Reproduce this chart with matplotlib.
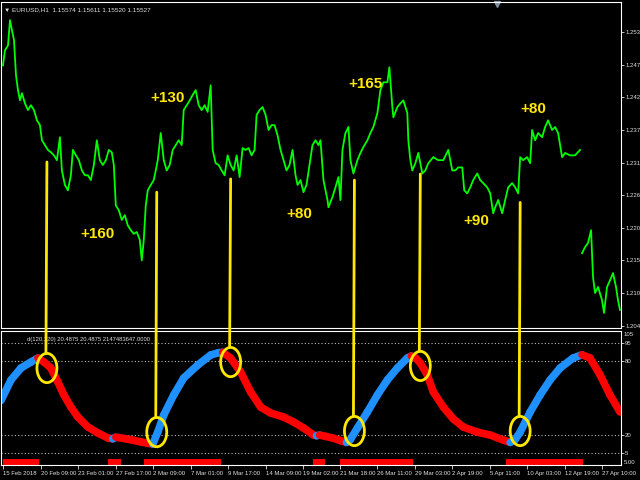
import numpy as np
import matplotlib
matplotlib.use("Agg")
import matplotlib.pyplot as plt
from matplotlib.collections import LineCollection
from matplotlib.patches import Ellipse, ConnectionPatch
from matplotlib.transforms import blended_transform_factory

plt.rcParams['font.family'] = ['Liberation Sans', 'DejaVu Sans']

# EURUSD H1 close (bar index, price); NaN marks the data gap
price_bar = [2, 4, 7, 9, 11, 13, 15, 17, 19, 21, 24, 27, 30, 33, 36, 39, 41, 44, 47, 50,
             53, 56, 59, 61, 64, 67, 70, 72, 75, 78, 81, 84, 87, 90, 93, 96, 99, 102, 105, 108,
             111, 113, 115, 118, 121, 124, 127, 130, 133, 136, 139, 141, 143, 145, 147, 150, 153, 155, 157, 160,
             163, 166, 169, 172, 175, 178, 181, 183, 186, 189, 192, 195, 198, 201, 204, 207, 210, 212, 215, 218,
             221, 224, 227, 230, 233, 236, 239, 242, 245, 248, 251, 254, 256, 259, 262, 265, 268, 271, 274, 277,
             280, 283, 286, 289, 292, 295, 297, 300, 303, 306, 309, 312, 315, 318, 320, 323, 327, 328, 332, 335,
             338, 340, 342, 345, 348, 350, 353, 357, 360, 363, 367, 370, 373, 377, 380, 383, 387, 389, 392, 393,
             397, 400, 403, 407, 408, 410, 412, 415, 418, 422, 425, 428, 433, 438, 443, 448, 452, 455, 458, 462,
             464, 467, 470, 473, 477, 480, 483, 487, 490, 493, 495, 498, 502, 505, 508, 512, 515, 518, 520, 523,
             527, 530, 532, 535, 538, 542, 545, 548, 552, 555, 558, 562, 565, 570, 575, 580, 581, 582, 585, 588,
             591, 593, 595, 598, 602, 604, 607, 610, 613, 616, 618, 620]
price = [1.2478, 1.2503, 1.2511, 1.2553, 1.2536, 1.2520, 1.2462, 1.2437, 1.2420, 1.2432,
         1.2415, 1.2404, 1.2412, 1.2404, 1.2387, 1.2379, 1.2354, 1.2346, 1.2338, 1.2334,
         1.2329, 1.2321, 1.2359, 1.2304, 1.2280, 1.2271, 1.2296, 1.2338, 1.2329, 1.2321,
         1.2304, 1.2296, 1.2296, 1.2288, 1.2313, 1.2354, 1.2321, 1.2313, 1.2321, 1.2338,
         1.2334, 1.2313, 1.2246, 1.2238, 1.2222, 1.2230, 1.2213, 1.2205, 1.2199, 1.2202,
         1.2189, 1.2155, 1.2189, 1.2246, 1.2271, 1.2280, 1.2288, 1.2304, 1.2321, 1.2366,
         1.2321, 1.2304, 1.2313, 1.2338, 1.2346, 1.2354, 1.2346, 1.2404, 1.2412, 1.2420,
         1.2429, 1.2437, 1.2412, 1.2404, 1.2412, 1.2401, 1.2445, 1.2338, 1.2316, 1.2313,
         1.2304, 1.2296, 1.2329, 1.2313, 1.2304, 1.2329, 1.2293, 1.2341, 1.2338, 1.2341,
         1.2329, 1.2338, 1.2396, 1.2404, 1.2409, 1.2396, 1.2371, 1.2379, 1.2379, 1.2362,
         1.2338, 1.2321, 1.2304, 1.2313, 1.2338, 1.2296, 1.2280, 1.2288, 1.2268, 1.2280,
         1.2313, 1.2346, 1.2354, 1.2346, 1.2354, 1.2288, 1.2255, 1.2243, 1.2260, 1.2276,
         1.2293, 1.2255, 1.2338, 1.2366, 1.2376, 1.2321, 1.2299, 1.2321, 1.2333, 1.2343,
         1.2354, 1.2366, 1.2376, 1.2399, 1.2437, 1.2450, 1.2450, 1.2475, 1.2409, 1.2392,
         1.2409, 1.2415, 1.2420, 1.2399, 1.2354, 1.2321, 1.2304, 1.2316, 1.2333, 1.2299,
         1.2304, 1.2316, 1.2326, 1.2321, 1.2321, 1.2338, 1.2304, 1.2304, 1.2309, 1.2309,
         1.2271, 1.2266, 1.2276, 1.2288, 1.2299, 1.2288, 1.2283, 1.2276, 1.2266, 1.2233,
         1.2243, 1.2255, 1.2233, 1.2255, 1.2276, 1.2283, 1.2276, 1.2266, 1.2326, 1.2321,
         1.2326, 1.2316, 1.2371, 1.2354, 1.2366, 1.2359, 1.2376, 1.2387, 1.2371, 1.2376,
         1.2366, 1.2326, 1.2333, 1.2329, 1.2329, 1.2338, np.nan, 1.2167, 1.2177, 1.2184,
         1.2205, 1.2127, 1.2101, 1.2111, 1.2089, 1.2068, 1.2111, 1.2122, 1.2134, 1.2111,
         1.2089, 1.2073]

# oscillator (0..100 style) in lower window
ind_bar = [0, 10, 20, 30, 37, 43, 50, 57, 63, 70, 77, 87, 97, 107, 112, 115, 118, 125, 133, 140,
           147, 152, 157, 163, 173, 183, 197, 210, 218, 222, 230, 240, 250, 260, 270, 283, 293, 303, 313, 316,
           319, 325, 333, 340, 346, 350, 357, 367, 377, 387, 397, 407, 411, 415, 420, 427, 433, 443, 453, 463,
           477, 490, 503, 510, 515, 520, 530, 540, 550, 560, 573, 582, 590, 600, 610, 620]
ind_val = [48.0, 64.8, 74.6, 79.5, 82.8, 79.5, 74.6, 63.0, 52.5, 42.6, 34.4, 26.2, 21.3, 17.2, 16.5, 17.8, 17.5, 16.5, 15.2, 14.0,
           12.8, 12.2, 22.0, 36.0, 52.5, 66.4, 77.0, 85.3, 87.2, 87.5, 82.8, 71.3, 55.0, 42.6, 37.7, 34.4, 30.3, 25.4, 19.6, 19.0,
           19.6, 18.5, 17.0, 15.0, 13.5, 16.0, 25.4, 38.5, 52.5, 64.8, 74.6, 82.8, 84.5, 83.0, 78.7, 69.0, 55.0, 42.6, 32.8, 26.2,
           22.0, 19.6, 15.5, 13.5, 16.0, 22.0, 38.5, 52.5, 64.8, 74.6, 82.8, 85.5, 82.8, 69.0, 52.5, 38.5]
levels = [95, 80, 20, 5]

# red histogram runs along the bottom of the indicator window
bar_start = [2, 107, 143, 313, 340, 506]
bar_end = [38, 120, 220, 325, 413, 583]
bar_level = -2.5

# signals: bar, price where the marker line starts, oscillator level at the circle
sig_bar = [46, 156, 230, 354, 420, 520]
sig_price = [1.2318, 1.2268, 1.2290, 1.2288, 1.2298, 1.2251]
sig_level = [74.6, 22.0, 79.5, 22.9, 76.3, 22.9]

# pips gained per swing
gain_text = ["+160", "+130", "+80", "+165", "+90", "+80"]
gain_bar = [97, 167, 299, 365, 476, 533]
gain_price = [1.2198, 1.2424, 1.2232, 1.2447, 1.2220, 1.2405]

price_ticks = [1.2533, 1.2478, 1.2425, 1.2371, 1.2317, 1.2263, 1.2209, 1.2155, 1.2101, 1.2047]
date_ticks = [2, 40, 77, 115, 152, 190, 227, 265, 302, 340, 377, 415, 452, 490, 527, 565, 602]
date_labels = ["15 Feb 2018", "20 Feb 09:00", "23 Feb 01:00", "27 Feb 17:00", "2 Mar 09:00",
               "7 Mar 01:00", "9 Mar 17:00", "14 Mar 09:00", "19 Mar 02:00", "21 Mar 18:00",
               "26 Mar 11:00", "29 Mar 03:00", "2 Apr 19:00", "5 Apr 11:00", "10 Apr 03:00",
               "12 Apr 19:00", "27 Apr 10:00"]

BG = "black"
FG = "#E0E0E0"
YEL = "#FFE800"
W, H = 640, 480

fig = plt.figure(figsize=(6.4, 4.8), dpi=100, facecolor=BG)
ax_p = fig.add_axes([1 / W, 1 - 328 / H, 620 / W, 326 / H], facecolor=BG)
ax_i = fig.add_axes([1 / W, 1 - 465 / H, 620 / W, 134 / H], facecolor=BG)

for ax in (ax_p, ax_i):
    for s in ax.spines.values():
        s.set_color("white")
        s.set_linewidth(0.8)
    ax.set_xlim(0, 621)
    ax.yaxis.tick_right()
    ax.tick_params(axis="y", colors=FG, labelsize=4.3, length=2, width=0.6, pad=1)

# price window
ax_p.plot(price_bar, price, color="#00FF00", lw=1.3)
ax_p.set_ylim(1.2043, 1.2583)
ax_p.set_yticks(price_ticks)
ax_p.set_yticklabels([f"{v:.4f}" for v in price_ticks])
ax_p.set_xticks([])
ax_p.text(0.005, 0.985, "\u25bc EURUSD,H1  1.15574 1.15611 1.15520 1.15527", transform=ax_p.transAxes,
          color=FG, fontsize=4.6, va="top", ha="left")
ax_p.plot([496 / 620], [0.993], marker="v", color="#8090A0", ms=4, transform=ax_p.transAxes, clip_on=False)

for t, b, p in zip(gain_text, gain_bar, gain_price):
    ax_p.text(b, p, t, color=YEL, fontsize=11, fontweight="bold", ha="center", va="center")

# indicator window
ax_i.set_ylim(-5, 105)
for lv in levels:
    ax_i.axhline(lv, color="#B8B8B8", lw=0.8, ls=(0, (1, 2)))
ax_i.set_yticks(levels)
ax_i.set_yticklabels([str(v) for v in levels])
yt = blended_transform_factory(ax_i.transAxes, ax_i.transData)
ax_i.text(1.004, 104.5, "105", transform=yt, color=FG, fontsize=4.3, va="top", ha="left")
ax_i.text(1.004, -5, "5.00", transform=yt, color=FG, fontsize=4.3, va="bottom", ha="left")

pts = np.column_stack([ind_bar, ind_val])
segs = np.stack([pts[:-1], pts[1:]], axis=1)
rising = np.diff(ind_val) > 0
cols = np.where(rising, "#1E90FF", "#FF0000")
lc = LineCollection(segs, colors=cols, linewidths=5.5, capstyle="round", joinstyle="round")
ax_i.add_collection(lc)

for a, b in zip(bar_start, bar_end):
    ax_i.plot([a, b], [bar_level, bar_level], color="#FF0000", lw=4.3, solid_capstyle="butt")

ax_i.text(26 / 620, 1 - 9 / 134, "d(120,120) 20.4875 20.4875 2147483647.0000", transform=ax_i.transAxes,
          color=FG, fontsize=4.2, va="center", ha="left")

ax_i.set_xticks(date_ticks)
ax_i.set_xticklabels(date_labels, ha="left")
ax_i.tick_params(axis="x", colors=FG, labelsize=4.3, length=3, width=0.6, pad=1.5)

# signal markers: yellow drop lines from price to circled oscillator turns
ell_w, ell_h = 20, 24
for b, p, lv in zip(sig_bar, sig_price, sig_level):
    ax_i.add_patch(Ellipse((b, lv), ell_w, ell_h, fill=False, edgecolor=YEL, lw=2, zorder=5))
    con = ConnectionPatch((b, p), (b - 1, lv + ell_h / 2), coordsA=ax_p.transData, coordsB=ax_i.transData,
                          color=YEL, lw=2, zorder=6)
    fig.add_artist(con)

fig.savefig("out.png", dpi=100, facecolor=BG)
